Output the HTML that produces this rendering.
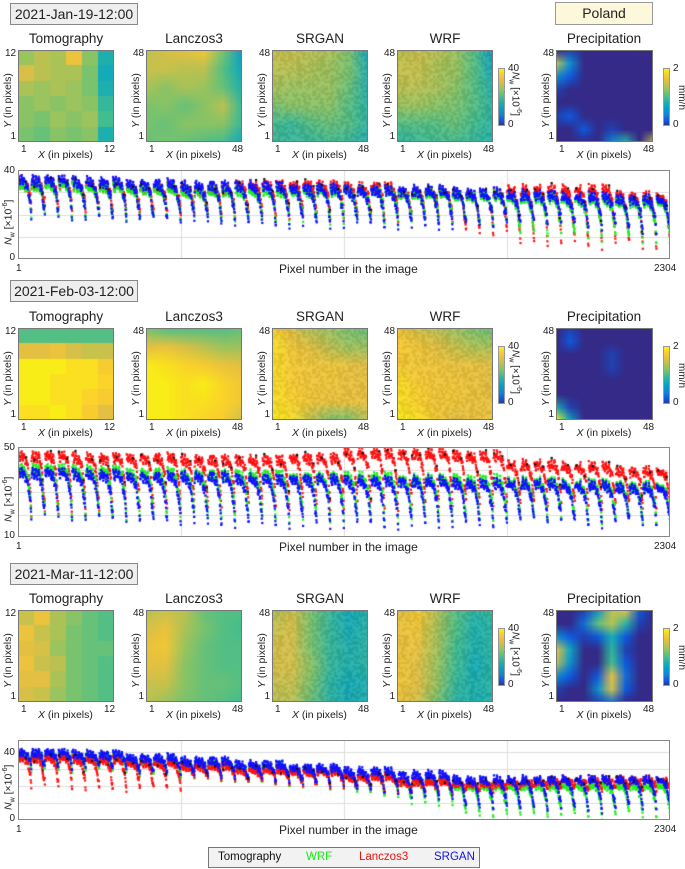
<!DOCTYPE html>
<html><head><meta charset="utf-8">
<style>
body{margin:0;width:685px;height:869px;background:#fff;position:relative;overflow:hidden;font-family:"Liberation Sans",sans-serif;color:#222}
.abs{position:absolute}
.date{position:absolute;left:10px;width:126px;height:20px;border:1px solid #888;background:#eee;font-size:14px;line-height:20px;text-align:center}
.title{position:absolute;font-size:13.5px;text-align:center;width:110px}
.tk{position:absolute;font-size:10px;line-height:11px}
.lab{position:absolute;font-size:10.5px;white-space:nowrap}
.rot{transform:rotate(-90deg);transform-origin:left top}
.rotc{transform:rotate(90deg);transform-origin:left top}
canvas{position:absolute}
.frame{position:absolute;border:1px solid #777;box-sizing:border-box}
</style></head><body>
<div class="abs" style="left:555px;top:2px;width:96px;height:21px;border:1px solid #999;background:#fdf8dc;font-size:14px;line-height:21px;text-align:center">Poland</div>
<div id="root"></div>
<div class="abs" style="left:208px;top:847px;width:270px;height:19px;border:1px solid #777;background:#f2f2f2;font-size:11.5px;line-height:19px">
<span class="abs" style="left:9px;color:#111">Tomography</span>
<span class="abs" style="left:97px;color:#1e1">WRF</span>
<span class="abs" style="left:150px;color:#e11">Lanczos3</span>
<span class="abs" style="left:225px;color:#11e">SRGAN</span>
</div>
<script>
// ---- data ----
const dates=["2021-Jan-19-12:00","2021-Feb-03-12:00","2021-Mar-11-12:00"];
const mapTitles=["Tomography","Lanczos3","SRGAN","WRF"];
const tomo1=[[28,30,29,34,27,20],[32,30,29,29,26,19],[29,28,29,28,26,20],[27,28,27,28,27,22],[27,26,28,27,28,23],[26,25,27,26,27,20]];
const lanc1=[[30,32,33,35,26,16],[31,31,30,30,24,18],[29,27,29,28,25,20],[26,27,25,27,30,22],[26,25,27,27,27,22],[25,26,25,24,23,18]];
const srgan1=[[31,31,30,29,26,18],[30,30,29,28,26,20],[29,28,28,28,25,20],[26,27,27,27,24,21],[23,22,24,25,24,21],[22,22,22,23,22,20]];
const wrf1=[[30,31,30,28,24,16],[31,31,29,28,24,18],[30,30,29,27,24,20],[28,28,27,26,24,21],[24,24,24,25,23,21],[21,22,23,23,22,20]];
const tomo2=[[24,24,24,24,24,24],[33,33,34,32,31,31],[39,39,39,38,38,36],[39,39,38,38,38,37],[39,39,38,38,37,36],[38,38,39,38,36,33]];
const lanc2=[[26,24,24,24,24,25],[33,34,32,30,28,28],[39,38,37,36,34,33],[39,39,38,39,37,35],[39,39,38,38,37,35],[39,39,38,37,36,31]];
const srgan2=[[37,33,29,28,26,25],[38,35,33,30,28,28],[38,36,35,35,34,33],[38,36,35,35,34,34],[38,37,35,34,34,34],[39,38,30,26,26,30]];
const wrf2=[[35,32,30,28,26,25],[36,35,33,31,29,29],[36,35,35,34,34,33],[38,36,35,35,34,33],[38,37,35,35,34,34],[39,38,36,33,34,34]];
const tomo3=[[31,34,29,27,25,24],[34,31,29,26,25,24],[33,32,28,26,25,25],[34,31,30,26,25,24],[33,33,29,26,25,24],[32,31,28,26,25,24]];
const lanc3=[[30,31,30,25,24,24],[32,34,29,26,24,23],[34,35,28,25,24,24],[33,33,27,25,24,24],[31,31,27,25,25,24],[30,28,26,25,24,23]];
const srgan3=[[29,32,26,22,19,20],[31,32,26,22,19,21],[32,32,26,22,20,21],[32,32,27,22,20,21],[31,31,26,21,19,20],[30,30,25,21,19,20]];
const wrf3=[[33,36,30,24,21,22],[34,35,29,24,20,21],[34,34,29,23,20,21],[35,33,28,23,19,21],[35,33,28,22,20,21],[34,32,26,21,20,20]];
const prec1=[[0,0.1,0,0,0,0,0,0],[1.4,0.5,0,0,0,0,0,0],[0.5,0.2,0,0,0,0,0,0],[0.1,0,0,0,0,0,0,0],[0,0,0,0,0,0,0,0],[0.1,0.2,0,0,0,0,0,0],[0,0,0.2,0,0.1,0,0,0],[0,0,0,0,0.4,0.9,0,1.5]];
const prec2=[[0,0.1,0,0,0,0,0,0],[0,0.2,0,0,0,0,0,0],[0,0,0,0,0.1,0,0,0],[0,0,0,0,0.1,0,0,0],[0,0,0,0,0,0,0,0],[0,0,0,0,0,0,0,0],[0.8,0.1,0,0,0,0,0,0],[2,0.7,0,0,0,0,0,0]];
const prec3=[[0,0,0.1,0.5,1.4,1.6,0.2,0],[0,0,0.3,1.1,1.4,0.9,0.1,0],[0.5,0.2,0.1,0.2,0.8,0.2,0,0],[1.6,0.7,0,0,0.9,0.1,0,0],[1.4,0.5,0,0,1.0,0.2,0,0],[0.5,0.2,0,0.2,1.6,0.3,0,0],[0.1,0,0,0.5,1.5,0.2,0,0],[0,0,0,0.1,0.3,0,0,0]];
const p1BluePeak=[36,35,34,33,33,32,31,31,30,29,28,27], p1BlueTr=[20,19,18,17,16,16,16,15,16,16,15,13];
const p1RedPeak=[34,33,32,31,33,33,32,30,29,31,31,28], p1RedTr=[24,22,21,20,20,20,19,18,12,6,6,6];
const p1GrnPeak=[33,32,31,30,30,30,30,29,28,27,26,25], p1GrnTr=[20,19,18,18,17,17,17,17,16,10,9,8];
const p2BluePeak=[39,38,37,37,36,36,35,35,34,34,33,32], p2BlueTr=[20,19,17,16,16,16,16,16,16,17,16,17];
const p2RedPeak=[46,45,45,44,44,45,47,47,46,42,41,39], p2RedTr=[21,21,22,23,24,24,24,25,25,24,24,24];
const p2GrnPeak=[40,39,38,37,37,36,36,35,35,34,33,32], p2GrnTr=[20,19,18,18,18,18,18,18,18,17,17,17];
const p3BluePeak=[40,39,37,35,33,31,29,27,24,24,24,24], p3BlueTr=[32,32,28,26,24,22,18,14,8,6,6,8];
const p3RedPeak=[36,35,33,31,29,28,25,22,21,22,23,23], p3RedTr=[20,18,18,24,22,20,18,16,17,18,18,18];
const p3GrnPeak=[38,37,35,33,31,29,26,23,20,20,20,20], p3GrnTr=[30,30,26,24,22,20,16,10,3,2,2,3];
const yTicks1=["40","0"], yTicks2=["50","10"], yTicks3=["40","0"];

const PAR=[[0,53,42,135],[0.1,15,89,222],[0.2,20,131,211],[0.3,6,156,206],[0.4,24,174,179],[0.5,66,189,144],[0.6,129,196,106],[0.7,185,194,82],[0.8,230,192,66],[0.9,252,206,46],[1,249,251,14]];
function parula(t){t=Math.max(0,Math.min(1,t));for(let i=1;i<PAR.length;i++){if(t<=PAR[i][0]){const a=PAR[i-1],b=PAR[i],f=(t-a[0])/(b[0]-a[0]);return `rgb(${a[1]+(b[1]-a[1])*f|0},${a[2]+(b[2]-a[2])*f|0},${a[3]+(b[3]-a[3])*f|0})`;}}return "rgb(249,251,14)";}
const root=document.getElementById('root');
function div(cls,css,txt,name){const d=document.createElement('div');d.className=cls;d.style.cssText=css;if(txt!=null)d.innerHTML=txt;


root.appendChild(d);return d;}
function heat(grid,x,y,w,h,vmin,vmax,smooth,name,ticks,texture){
  const n=grid.length,src=document.createElement('canvas');src.width=n;src.height=n;const sc=src.getContext('2d');
  grid.forEach((row,r)=>row.forEach((v,c)=>{sc.fillStyle=parula((v-vmin)/(vmax-vmin));sc.fillRect(c,r,1,1);}));
  const cv=document.createElement('canvas');cv.width=w;cv.height=h;cv.style.left=x+'px';cv.style.top=y+'px';
  
  
  const ctx=cv.getContext('2d');ctx.imageSmoothingEnabled=smooth;
  if(smooth){ctx.drawImage(src,0.5,0.5,n-1,n-1,0,0,w,h);}else ctx.drawImage(src,0,0,w,h);
  if(texture){ctx.globalAlpha=0.05;for(let i=0;i<48;i++)for(let j=0;j<48;j++){const s=Math.sin(i*12.9898+j*78.233)*43758.5;const f=s-Math.floor(s);ctx.fillStyle=f>0.5?'#fff':'#000';ctx.fillRect(j*w/48,i*h/48,w/48+0.5,h/48+0.5);}ctx.globalAlpha=1;}
  root.appendChild(cv);
  div('frame',`left:${x}px;top:${y}px;width:${w}px;height:${h}px`,null,name+'-frame');
  div('tk',`left:${x-13}px;top:${y-2}px;width:11px;text-align:right`,ticks,name+'-ytick-max');
  div('tk',`left:${x-13}px;top:${y+h-11}px;width:11px;text-align:right`,'1',name+'-ytick-min');
  div('tk',`left:${x+3}px;top:${y+h+2}px`,'1',name+'-xtick-min');
  div('tk',`left:${x+w-10}px;top:${y+h+2}px`,ticks,name+'-xtick-max');
  div('lab',`left:${x+w/2-28}px;top:${y+h+7}px`,'<i>X</i> (in pixels)',name+'-x-label');
  div('lab rot',`left:${x-16}px;top:${y+h/2+32}px`,'<i>Y</i> (in pixels)',name+'-y-label');
}
function cbar(x,y,h,top,lab,name){
  const cv=document.createElement('canvas');cv.width=7;cv.height=h;cv.style.left=x+'px';cv.style.top=y+'px';
  
  
  const c=cv.getContext('2d');for(let i=0;i<h;i++){c.fillStyle=parula(1-i/h);c.fillRect(0,i,7,1);}root.appendChild(cv);
  div('frame',`left:${x}px;top:${y}px;width:7px;height:${h}px;border-color:#999`,null,name+'-frame');
  div('tk',`left:${x+10}px;top:${y-5}px`,top,name+'-max');
  div('tk',`left:${x+10}px;top:${y+h-7}px`,'0',name+'-min');
  div('lab rotc',`left:${x+24}px;top:${y+h/2-(lab.length>10?25:12)}px;font-size:10px`,lab,name+'-label');
}
function scatter(x,y,w,h,ymin,ymax,gridVals,series,yt,name){
  const cv=document.createElement('canvas');cv.width=w;cv.height=h;cv.style.left=x+'px';cv.style.top=y+'px';
  
  
  const c=cv.getContext('2d');
  const X=i=>(i-1)/(2303)*w, Y=v=>h-(v-ymin)/(ymax-ymin)*h;
  c.strokeStyle='#ddd';c.lineWidth=1;
  [577,1152,1728].forEach(p=>{c.beginPath();c.moveTo(Math.round(X(p))+.5,0);c.lineTo(Math.round(X(p))+.5,h);c.stroke();});
  gridVals.forEach(v=>{c.beginPath();c.moveTo(0,Math.round(Y(v))+.5);c.lineTo(w,Math.round(Y(v))+.5);c.stroke();});
  series.forEach(s=>{
    c.fillStyle=s.col;
    for(let i=1;i<=2304;i+=s.step){
      const row=Math.floor((i-1)/48),g=Math.floor(row/4),t=((i-1)%48)/47;
      const pk=s.peak[g],tr=s.tr[g];
      const n1=Math.sin(i*12.9898+row*7.1)*43758.5, nz=(n1-Math.floor(n1))-0.5;
      const v=pk-(pk-tr)*Math.pow(t,s.pow)+3.2*nz+1.2*Math.sin(i*0.6+row)+s.off;
      c.fillRect(X(i)-1.1,Y(v)-1.1,2.2,2.2);
    }
  });
  root.appendChild(cv);
  div('frame',`left:${x}px;top:${y}px;width:${w}px;height:${h}px;border-color:#888`,null,name+'-frame');
  const topV=+yt[0];
  div('tk',`left:${x-17}px;top:${y+Y(topV)-5}px;width:14px;text-align:right`,yt[0],name+'-ytick-max');
  div('tk',`left:${x-17}px;top:${y+h-7}px;width:14px;text-align:right`,yt[1],name+'-ytick-min');
  div('tk',`left:${x-2}px;top:${y+h+4}px`,'1',name+'-xtick-min');
  div('tk',`left:${x+w-16}px;top:${y+h+4}px`,'2304',name+'-xtick-max');
  div('lab',`left:${x+w/2-65}px;top:${y+h+3}px;font-size:12px`,'Pixel number in the image',name+'-x-label');
  div('lab rot',`left:${x-16}px;top:${y+h/2+30}px`,'<i>N</i><sub style="font-size:7px">w</sub> [×10<sup style="font-size:7px">-6</sup>]',name+'-y-label');
}
const panels=[
 {dy:3,my:50,maps:[tomo1,lanc1,srgan1,wrf1],prec:prec1,sy:170,sh:89,ymin:0,ymax:40,grid:[10,20,30],yt:yTicks1,
  s:[[p1RedPeak,p1RedTr,'#f11'],[p1GrnPeak,p1GrnTr,'#2e2'],[p1BluePeak,p1BlueTr,'#11f']]},
 {dy:280,my:328,maps:[tomo2,lanc2,srgan2,wrf2],prec:prec2,sy:447,sh:90,ymin:10,ymax:50,grid:[20,30,40],yt:yTicks2,
  s:[[p2RedPeak,p2RedTr,'#f11'],[p2GrnPeak,p2GrnTr,'#2e2'],[p2BluePeak,p2BlueTr,'#11f']]},
 {dy:563,my:610,maps:[tomo3,lanc3,srgan3,wrf3],prec:prec3,sy:740,sh:80,ymin:0,ymax:47,grid:[10,20,30,40],yt:yTicks3,
  s:[[p3GrnPeak,p3GrnTr,'#2e2'],[p3RedPeak,p3RedTr,'#f11'],[p3BluePeak,p3BlueTr,'#11f']]}
];
const mx=[18,146,272,397];
panels.forEach((p,k)=>{
  const n=k+1;
  div('date',`top:${p.dy}px`,dates[k],'date-label-'+n);
  mapTitles.forEach((t,j)=>{
    div('title',`left:${mx[j]+48-55}px;top:${p.my-19}px`,t,'map-title-'+t.toLowerCase()+'-'+n);
    heat(p.maps[j],mx[j],p.my,96,92,6,40,j!==0,'map-'+t.toLowerCase()+'-'+n,j===0?'12':'48',j>=2);
  });
  cbar(498,p.my+18,58,'40','<i>N</i><sub style="font-size:7px">w</sub> [×10<sup style="font-size:7px">-6</sup>]','nw-colorbar-'+n);
  div('title',`left:${556+48-55}px;top:${p.my-19}px`,'Precipitation','precip-title-'+n);
  heat(p.prec,556,p.my,97,92,0,2,true,'map-precipitation-'+n,'48',false);
  cbar(663,p.my+18,58,'2','mm/h','precip-colorbar-'+n);
  const ser=[{peak:p.s[0][0],tr:p.s[0][1],col:p.s[0][2],step:1,pow:5,off:0},
             {peak:p.s[1][0],tr:p.s[1][1],col:p.s[1][2],step:1,pow:4.5,off:0.5},
             {peak:p.s[2][0],tr:p.s[2][1],col:p.s[2][2],step:1,pow:4,off:-0.3}];
  const red=p.s.find(q=>q[2]==='#f11');
  ser.push({peak:red[0],tr:red[1],col:'#111',step:29,pow:5,off:1});
  scatter(18,p.sy,652,p.sh,p.ymin,p.ymax,p.grid,ser,p.yt,'scatter-plot-'+n);
});
</script>
</body></html>
